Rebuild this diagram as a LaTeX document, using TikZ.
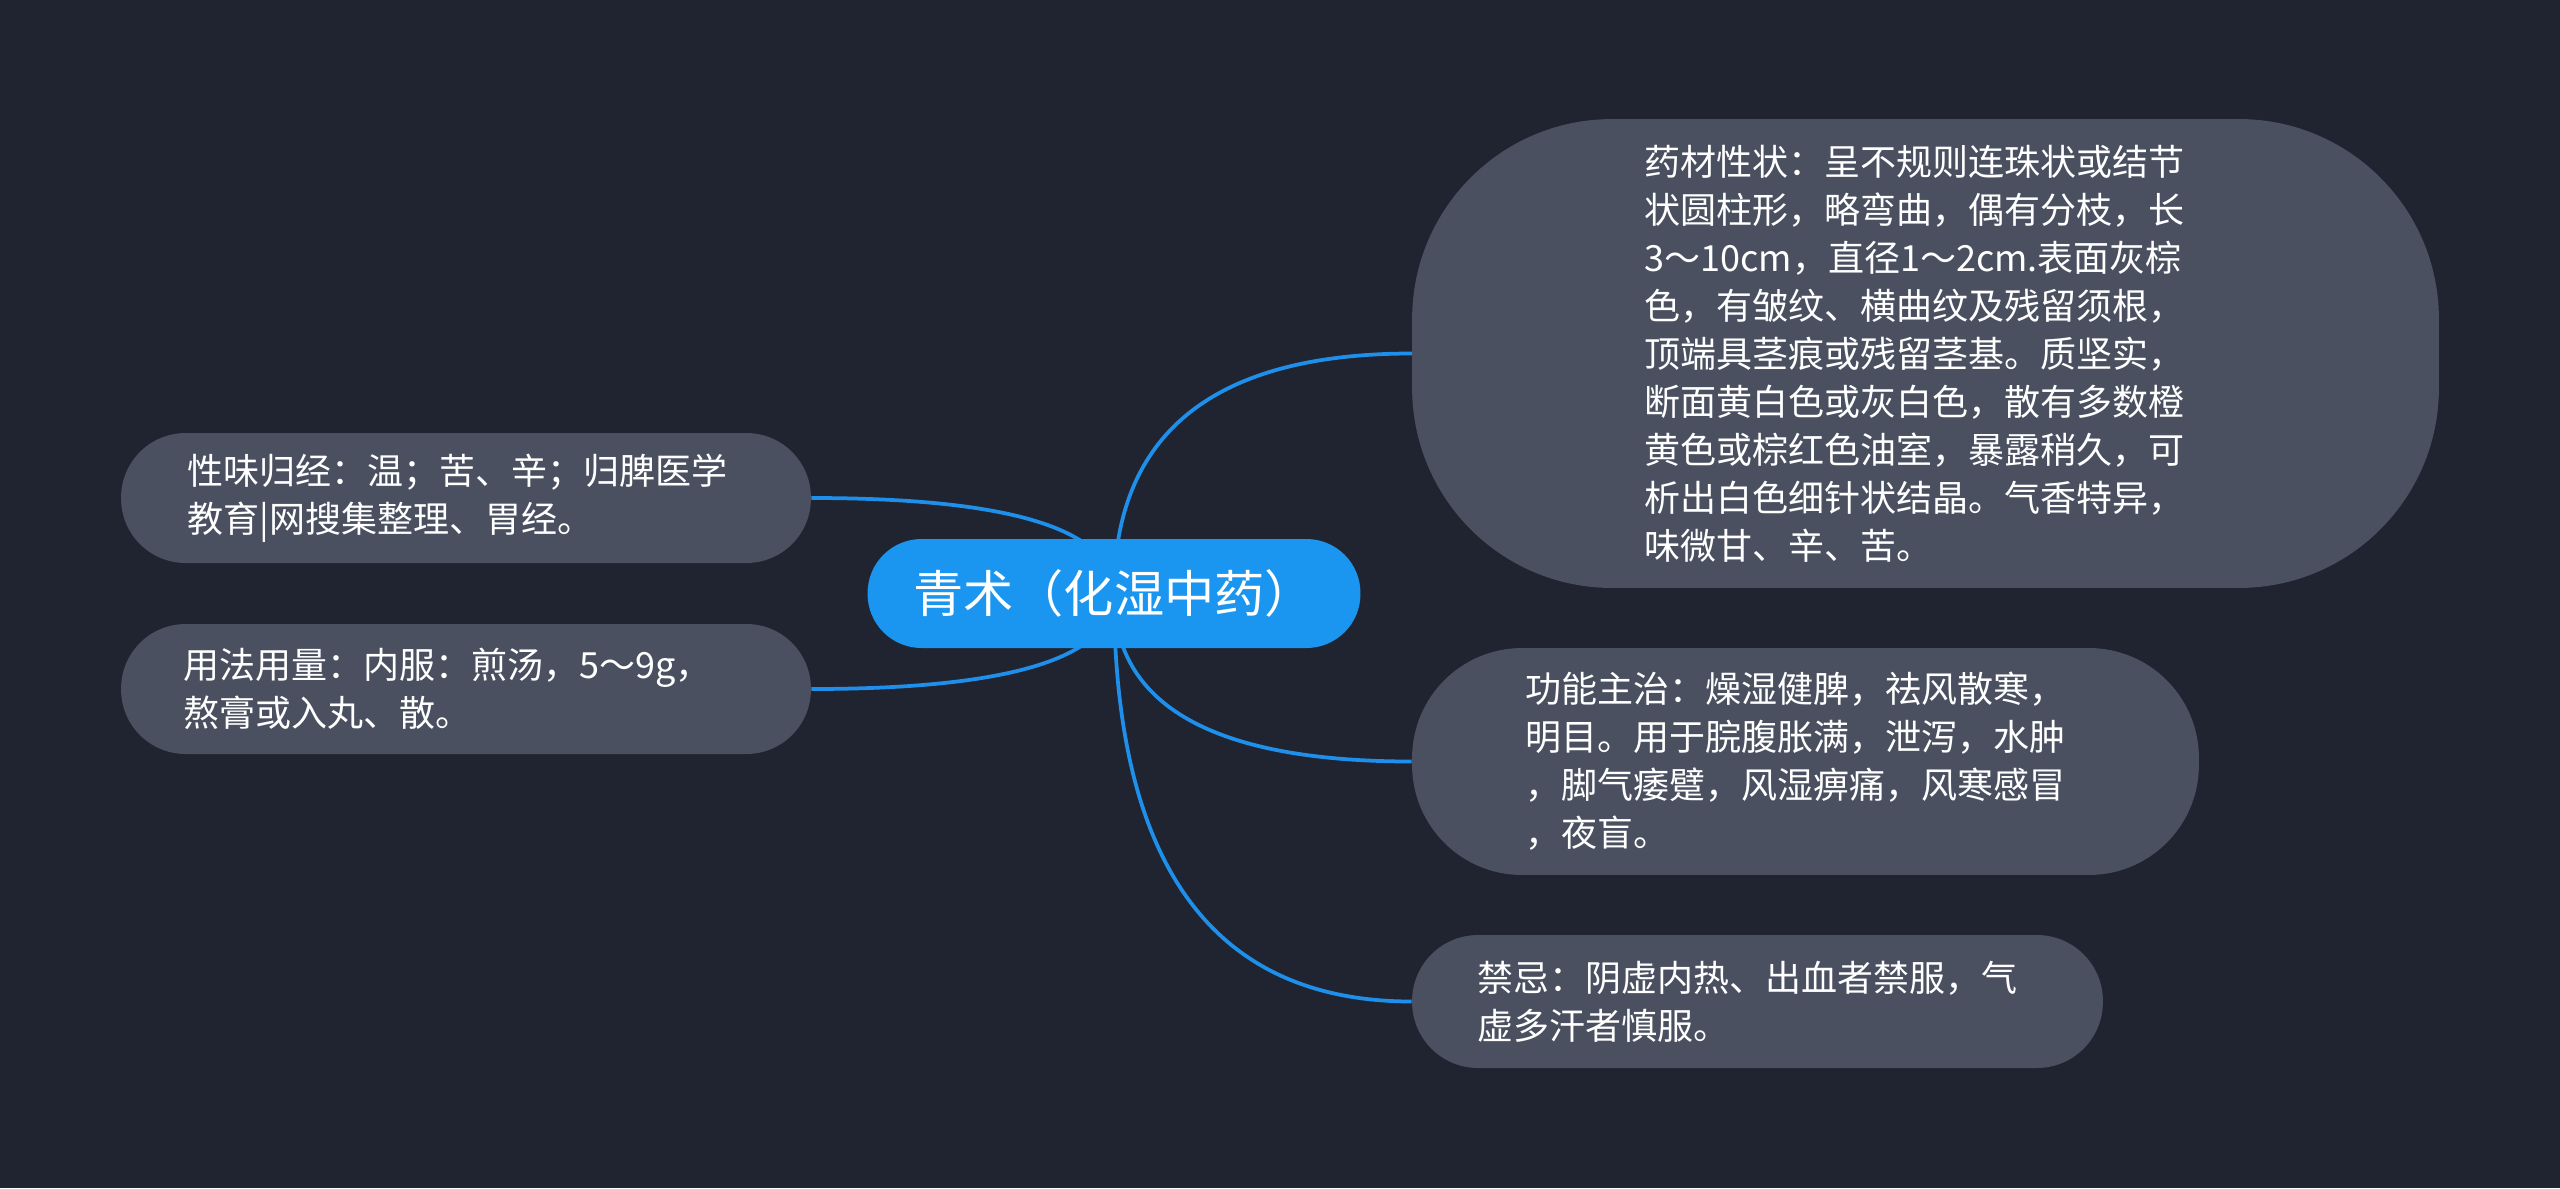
\documentclass[tikz,border=0pt]{standalone}
\usepackage{fontspec}
\setmainfont{Noto Sans CJK SC}
\usetikzlibrary{backgrounds,calc}
\definecolor{bgc}{RGB}{32,36,48}
\definecolor{boxc}{RGB}{74,80,96}
\definecolor{mainc}{RGB}{26,150,240}
\definecolor{linec}{RGB}{30,144,235}
\newcommand\padr[1]{\rule{#1}{0pt}}
\tikzset{
  topic/.style={draw=none, fill=boxc, text=white, align=left, inner sep=0pt,
    font=\fontsize{20.5}{27.3}\selectfont},
  central/.style={draw=none, fill=mainc, text=white, inner sep=0pt,
    minimum width=9.86cm, minimum height=2.18cm, rounded corners=1.08cm,
    font=\fontsize{28.6}{32}\selectfont},
  branch/.style={draw=linec, line width=0.075cm}
}
% quadratic-style branch: start (#1), corner control, end (#2)
\newcommand\branchline[2]{%
  \draw[branch] (#1) .. controls ($(#1)!2/3!(#1 |- #2)$) and ($(#2)!2/3!(#1 |- #2)$) .. (#2);}
\begin{document}
\begin{tikzpicture}[x=0.02cm, y=-0.02cm]
\node[central] (c) at (1114,593.5) {青术（化湿中药）};
\node[topic, minimum width=20.54cm, minimum height=9.38cm, rounded corners=4cm] (n1) at (1925.5,353.5)
 {药材性状：呈不规则连珠状或结节\padr{0.44cm}\\状圆柱形，略弯曲，偶有分枝，长\\3～10cm，直径1～2cm.表面灰棕\\色，有皱纹、横曲纹及残留须根，\\顶端具茎痕或残留茎基。质坚实，\\断面黄白色或灰白色，散有多数橙\\黄色或棕红色油室，暴露稍久，可\\析出白色细针状结晶。气香特异，\\味微甘、辛、苦。};
\node[topic, minimum width=15.74cm, minimum height=4.54cm, rounded corners=2.2cm] (n2) at (1805.5,761.5)
 {功能主治：燥湿健脾，祛风散寒，\\明目。用于脘腹胀满，泄泻，水肿\padr{0.4cm}\\，脚气痿躄，风湿痹痛，风寒感冒\\，夜盲。};
\node[topic, minimum width=13.82cm, minimum height=2.66cm, rounded corners=1.32cm] (n3) at (1757.5,1001.5)
 {禁忌：阴虚内热、出血者禁服，气\padr{0.4cm}\\虚多汗者慎服。};
\node[topic, minimum width=13.8cm, minimum height=2.6cm, rounded corners=1.29cm] (l1) at (466,498)
 {性味归经：温；苦、辛；归脾医学\padr{0.34cm}\\教育|网搜集整理、胃经。};
\node[topic, minimum width=13.8cm, minimum height=2.6cm, rounded corners=1.29cm] (l2) at (466,689)
 {用法用量：内服：煎汤，5～9g，\padr{0.74cm}\\熬膏或入丸、散。};
\begin{scope}[on background layer]
\path[fill=bgc] (0,0) rectangle (2560,1188);
\branchline{c.center}{n1.west}
\branchline{c.center}{n2.west}
\branchline{c.center}{n3.west}
\branchline{c.center}{l1.east}
\branchline{c.center}{l2.east}
\end{scope}
\end{tikzpicture}
\end{document}
